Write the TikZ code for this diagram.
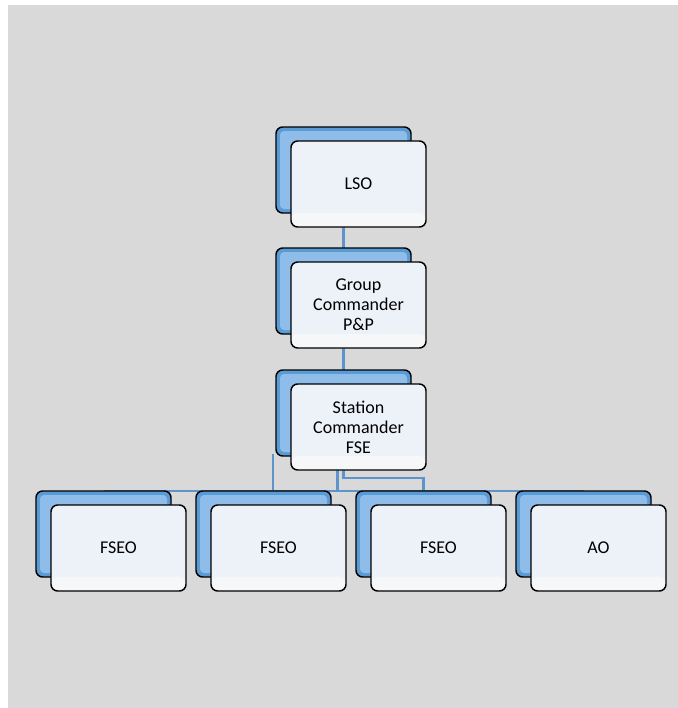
\documentclass[tikz,border=0pt]{standalone}
\usepackage{fontspec}
\setmainfont{Carlito}
\usetikzlibrary{positioning,calc}
\definecolor{canvas}{HTML}{D9D9D9}
\definecolor{cardblue}{HTML}{5B9BD5}
\definecolor{cardlight}{HTML}{8FBDE9}
\definecolor{cardface}{HTML}{EDF1F8}
\definecolor{cardbase}{HTML}{F6F7F9}
\definecolor{linkblue}{HTML}{5E93CB}
\pgfdeclarelayer{bg}
\pgfsetlayers{bg,main}

\begin{document}
\begin{tikzpicture}[x=0.75pt,y=-0.75pt,
    card/.style={draw=black,line width=1.1pt,rounded corners=5pt,minimum width=101.25pt,minimum height=64.5pt,inner sep=0pt,outer sep=0pt},
    backcard/.style={card,fill=cardblue,path picture={\fill[cardlight,rounded corners=3pt] ([shift={(3pt,3pt)}]path picture bounding box.south west) rectangle ([shift={(-3pt,-3pt)}]path picture bounding box.north east);}},
    frontcard/.style={card,fill=cardface,align=center,font=\fontsize{13.5}{15}\selectfont,path picture={\fill[cardbase] (path picture bounding box.south west) rectangle ([yshift=10.5pt]path picture bounding box.south east);}},
    link/.style={draw=linkblue,line width=1.8pt}]
\useasboundingbox (0,0) rectangle (678,708);
\node[backcard] (lso-b) at (343.5,170) {};
\node[frontcard] (lso) at ([shift={(15,14)}]lso-b.center) {LSO};
\node[backcard,below=26.25pt of lso-b] (grp-b) {};
\node[frontcard] (grp) at ([shift={(15,14)}]grp-b.center) {Group\\Commander\\P\&P};
\node[backcard,below=27pt of grp-b] (stc-b) {};
\node[frontcard] (stc) at ([shift={(15,14)}]stc-b.center) {Station\\Commander\\FSE};
\foreach \n/\x/\t in {fa/103.5/FSEO,fb/263.5/FSEO,fc/423.5/FSEO,ao/583.5/AO}{
    \node[backcard] (\n-b) at (\x,534) {};
    \node[frontcard] (\n) at ([shift={(15,14)}]\n-b.center) {\t};
}
\begin{pgfonlayer}{bg}
\fill[canvas] (8,5) rectangle (678,708);
\draw[link] (lso-b) -- (grp-b);
\draw[link] (grp-b) -- (stc-b);
\draw[link] (fa-b.north) -- (ao-b.north);
\draw[link] ($(stc-b.south west)+(-3,-2)$) coordinate (s1) -- (s1 |- fa-b.north);
\draw[link] ($(stc-b.south)+(-6,0)$) coordinate (s2) -- (s2 |- fa-b.north);
\draw[link] (stc-b.south) -- ++(0,22) -| (fc-b.north);
\end{pgfonlayer}
\end{tikzpicture}
\end{document}
